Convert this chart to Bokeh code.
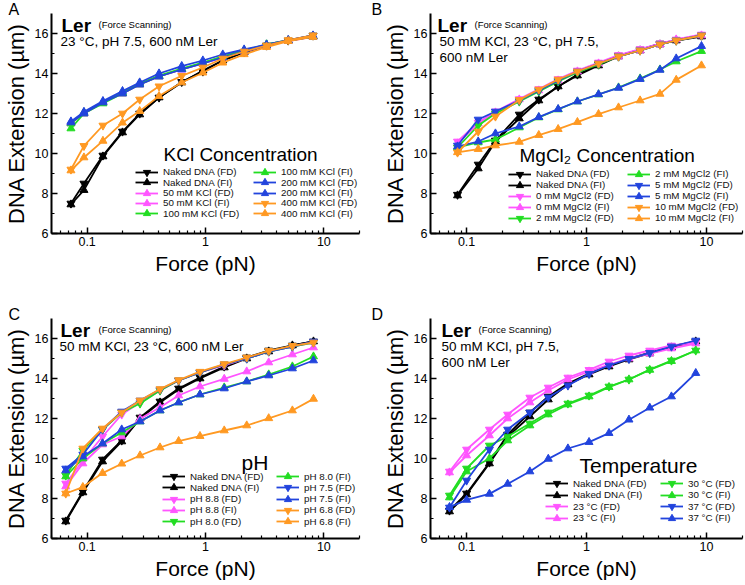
from bokeh.plotting import figure
from bokeh.models import Range1d, FixedTicker, BasicTickFormatter, Label, Legend, LegendItem
from bokeh.layouts import column, row
from bokeh.embed import file_html
from bokeh.resources import INLINE

FONT = "Liberation Sans"
BLACK = "#000000"
PINK = "#ff55ff"
GREEN = "#22dd22"
BLUE = "#2244dd"
ORANGE = "#ff9922"

# ---------------- Panel A : KCl concentration ----------------
force_a = [0.073, 0.094, 0.136, 0.199, 0.278, 0.405, 0.63, 0.95, 1.40, 2.12, 3.28, 5.0, 8.1]
a_naked_fd = [7.50, 8.50, 9.90, 11.10, 12.00, 12.80, 13.58, 14.10, 14.66, 15.07, 15.40, 15.65, 15.90]
a_naked_fi = [7.45, 8.17, 9.85, 11.05, 11.95, 12.80, 13.55, 14.15, 14.65, 15.05, 15.40, 15.65, 15.85]
a_50_fd = [11.55, 12.00, 12.55, 13.00, 13.45, 13.85, 14.20, 14.50, 14.80, 15.10, 15.40, 15.65, 15.85]
a_50_fi = [11.50, 12.00, 12.55, 13.00, 13.45, 13.85, 14.20, 14.50, 14.80, 15.10, 15.40, 15.62, 15.83]
a_100_fd = [11.25, 12.00, 12.50, 13.00, 13.45, 13.85, 14.22, 14.52, 14.85, 15.15, 15.45, 15.65, 15.85]
a_100_fi = [11.50, 12.05, 12.55, 13.05, 13.50, 13.90, 14.25, 14.55, 14.85, 15.15, 15.45, 15.65, 15.85]
a_200_fd = [11.60, 12.08, 12.62, 13.12, 13.55, 14.00, 14.37, 14.65, 14.95, 15.20, 15.45, 15.67, 15.90]
a_200_fi = [11.55, 12.00, 12.55, 13.00, 13.45, 13.85, 14.20, 14.50, 14.80, 15.10, 15.40, 15.65, 15.85]
a_400_fd = [9.20, 10.38, 11.40, 12.00, 12.70, 13.36, 13.88, 14.30, 14.75, 15.10, 15.40, 15.67, 15.90]
a_400_fi = [9.15, 9.80, 10.63, 11.54, 12.12, 12.87, 13.55, 14.04, 14.54, 14.96, 15.32, 15.62, 15.83]

# ---------------- Panel B : MgCl2 concentration ----------------
force_b = [0.084, 0.125, 0.174, 0.275, 0.40, 0.58, 0.84, 1.26, 1.85, 2.8, 4.1, 5.6, 9.1]
b_naked_fd = [7.94, 9.45, 10.65, 11.95, 12.70, 13.35, 13.95, 14.45, 14.90, 15.20, 15.50, 15.65, 15.90]
b_naked_fi = [7.90, 9.25, 10.60, 11.75, 12.65, 13.35, 13.90, 14.40, 14.85, 15.15, 15.45, 15.65, 15.85]
b_0_fd = [10.60, 11.55, 12.10, 12.72, 13.22, 13.72, 14.15, 14.55, 14.92, 15.22, 15.50, 15.70, 15.95]
b_0_fi = [10.50, 11.50, 12.05, 12.70, 13.15, 13.65, 14.10, 14.50, 14.85, 15.15, 15.45, 15.70, 15.90]
b_2_fd = [10.30, 11.40, 12.00, 12.60, 13.10, 13.60, 14.05, 14.45, 14.85, 15.15, 15.45, 15.65, 15.90]
b_2_fi = [10.30, 10.55, 10.70, 11.30, 11.80, 12.20, 12.60, 12.95, 13.30, 13.75, 14.20, 14.60, 15.12]
b_5_fd = [10.40, 11.70, 12.10, 12.65, 13.15, 13.65, 14.10, 14.50, 14.85, 15.15, 15.45, 15.65, 15.90]
b_5_fi = [10.35, 10.60, 11.00, 11.35, 11.82, 12.22, 12.60, 12.96, 13.28, 13.72, 14.18, 14.75, 15.37]
b_10_fd = [10.05, 11.10, 11.85, 12.68, 13.20, 13.70, 14.10, 14.50, 14.85, 15.15, 15.45, 15.65, 15.90]
b_10_fi = [10.06, 10.22, 10.40, 10.58, 10.92, 11.22, 11.57, 11.97, 12.30, 12.65, 12.98, 13.68, 14.40]

# ---------------- Panel C : pH ----------------
force_c = [0.066, 0.092, 0.135, 0.196, 0.28, 0.413, 0.593, 0.898, 1.44, 2.23, 3.42, 5.42, 8.17]
c_naked_fd = [6.90, 8.35, 9.95, 10.90, 12.05, 12.85, 13.50, 14.05, 14.60, 15.05, 15.40, 15.65, 15.85]
c_naked_fi = [6.85, 8.30, 9.85, 10.85, 12.00, 12.80, 13.45, 14.00, 14.55, 15.00, 15.35, 15.65, 15.85]
c_88_fd = [8.75, 9.90, 11.10, 12.20, 12.80, 13.40, 13.90, 14.30, 14.65, 15.00, 15.35, 15.60, 15.80]
c_88_fi = [8.60, 9.75, 10.70, 11.10, 11.98, 12.56, 13.15, 13.60, 13.98, 14.35, 14.80, 15.20, 15.55]
c_80_fd = [9.15, 10.40, 11.45, 12.30, 12.75, 13.40, 13.90, 14.30, 14.70, 15.00, 15.35, 15.60, 15.80]
c_80_fi = [9.10, 10.00, 10.75, 11.30, 11.85, 12.40, 12.80, 13.20, 13.55, 13.85, 14.20, 14.60, 15.10]
c_75_fd = [9.50, 10.20, 11.45, 12.35, 12.90, 13.45, 13.90, 14.30, 14.70, 15.00, 15.35, 15.60, 15.85]
c_75_fi = [9.40, 10.10, 10.75, 11.45, 11.85, 12.40, 12.80, 13.20, 13.50, 13.85, 14.15, 14.50, 14.90]
c_68_fd = [8.25, 10.50, 11.50, 12.30, 12.90, 13.47, 13.92, 14.34, 14.72, 15.05, 15.38, 15.63, 15.80]
c_68_fi = [8.25, 8.57, 9.27, 9.74, 10.15, 10.55, 10.87, 11.12, 11.40, 11.65, 12.01, 12.40, 12.98]

# ---------------- Panel D : temperature ----------------
force_d = [0.072, 0.10, 0.155, 0.22, 0.337, 0.48, 0.70, 1.05, 1.54, 2.26, 3.37, 5.11, 8.15]
d_naked_fd = [7.40, 8.25, 9.80, 11.20, 12.30, 13.10, 13.75, 14.25, 14.65, 15.00, 15.30, 15.60, 15.85]
d_naked_fi = [7.35, 8.20, 9.75, 11.10, 12.10, 12.95, 13.70, 14.20, 14.60, 14.95, 15.25, 15.55, 15.85]
d_23_fd = [9.35, 10.45, 11.45, 12.20, 13.05, 13.55, 14.05, 14.43, 14.85, 15.15, 15.40, 15.65, 15.80]
d_23_fi = [9.30, 10.15, 11.15, 12.00, 12.80, 13.40, 13.95, 14.35, 14.70, 15.00, 15.25, 15.50, 15.75]
d_30_fd = [8.15, 9.50, 10.65, 11.10, 11.75, 12.30, 12.75, 13.15, 13.60, 13.95, 14.45, 14.90, 15.40]
d_30_fi = [8.05, 9.35, 10.00, 10.90, 11.65, 12.20, 12.70, 13.10, 13.57, 13.95, 14.43, 14.87, 15.40]
d_37_fd = [7.55, 8.90, 10.45, 11.45, 12.30, 13.05, 13.65, 14.23, 14.65, 14.98, 15.28, 15.60, 15.90]
d_37_fi = [7.57, 7.93, 8.23, 8.73, 9.35, 9.98, 10.50, 10.82, 11.27, 11.94, 12.54, 13.10, 14.27]

X_TICKS = [0.1, 1, 10]
X_MINOR = [k * 10.0 ** e for e in (-2, -1, 0, 1) for k in range(2, 10) if 0.05 <= k * 10.0 ** e <= 20]
Y_TICKS = [6, 8, 10, 12, 14, 16]
Y_MINOR = [7, 9, 11, 13, 15]

DN = "inverted_triangle"
UP = "triangle"
DX, DY = -4, 5   # small correction of where text labels land


def make_panel(letter, width, height, bl, br, bt, bb, forces, series, n_left,
               header_x, lines, title, title_size, title_xy,
               leg_xs, leg_last, leg_pitch):
    p = figure(width=width, height=height, x_axis_type="log",
               x_range=Range1d(0.05, 20), y_range=Range1d(6, 17),
               output_backend="svg", toolbar_location=None,
               min_border_left=bl, min_border_right=br,
               min_border_top=bt, min_border_bottom=bb)
    p.outline_line_color = None
    p.background_fill_color = "white"
    p.border_fill_color = "white"
    p.xgrid.visible = False
    p.ygrid.visible = False

    # panel letter as the plot title, pulled left over the axis border
    p.title.text = letter
    p.title.align = "left"
    p.title.offset = -bl + 3
    p.title.standoff = -8
    p.title.text_font = FONT
    p.title.text_font_size = "16px"
    p.title.text_font_style = "normal"
    p.title.text_color = "black"

    p.xaxis.ticker = FixedTicker(ticks=X_TICKS, minor_ticks=X_MINOR)
    p.xaxis.formatter = BasicTickFormatter()
    p.yaxis.ticker = FixedTicker(ticks=Y_TICKS, minor_ticks=Y_MINOR)
    p.xaxis.axis_label = "Force (pN)"
    p.yaxis.axis_label = "DNA Extension (\u00b5m)"
    for ax in (p.xaxis[0], p.yaxis[0]):
        ax.axis_line_width = 2
        ax.axis_line_color = "black"
        ax.major_tick_in = 6
        ax.major_tick_out = 0
        ax.minor_tick_in = 3
        ax.minor_tick_out = 0
        ax.major_tick_line_width = 1.5
        ax.minor_tick_line_width = 1.2
        ax.major_tick_line_color = "black"
        ax.minor_tick_line_color = "black"
        ax.major_label_text_font = FONT
        ax.major_label_text_font_size = "12.5px"
        ax.major_label_text_color = "black"
        ax.major_label_standoff = 3
        ax.axis_label_text_font = FONT
        ax.axis_label_text_font_style = "normal"
        ax.axis_label_text_color = "black"
        ax.axis_label_standoff = 3
    p.xaxis.axis_label_text_font_size = "21px"
    p.yaxis.axis_label_text_font_size = "22px"

    items = []
    for label, ys, color, marker in series:
        ln = p.line(forces, ys, line_color=color, line_width=1.8)
        sc = p.scatter(forces, ys, marker=marker, size=8,
                       fill_color=color, line_color=color)
        items.append(LegendItem(label=label, renderers=[ln, sc]))

    # one small legend per entry so that the rows can be packed tightly
    cols = (items[:n_left], items[n_left:])
    for ci, col_items in enumerate(cols):
        for ri, it in enumerate(col_items):
            center = leg_last + (n_left - 1 - ri) * leg_pitch
            leg = Legend(items=[it], location=(leg_xs[ci], center - 9),
                         label_text_font=FONT, label_text_font_size="9.8px",
                         label_text_color="#111111",
                         glyph_width=23, glyph_height=18, label_height=18,
                         spacing=0, padding=0, margin=0, label_standoff=5,
                         border_line_alpha=0, background_fill_alpha=0)
            p.add_layout(leg)

    ler_x, fs_x, line_x = header_x
    p.add_layout(Label(x=ler_x + DX, y=203 + DY, x_units="screen", y_units="screen",
                       text="Ler", text_font=FONT, text_font_size="19px",
                       text_font_style="bold", text_color="black",
                       text_baseline="alphabetic"))
    p.add_layout(Label(x=fs_x + DX, y=204 + DY, x_units="screen", y_units="screen",
                       text="(Force Scanning)", text_font=FONT, text_font_size="9.5px",
                       text_color="black", text_baseline="alphabetic"))
    for i, t in enumerate(lines):
        p.add_layout(Label(x=line_x + DX, y=187 - 16 * i + DY, x_units="screen",
                           y_units="screen", text=t, text_font=FONT,
                           text_font_size="13.5px", text_color="black",
                           text_baseline="alphabetic"))
    p.add_layout(Label(x=title_xy[0] + DX, y=title_xy[1] + DY, x_units="screen",
                       y_units="screen", text=title, text_font=FONT,
                       text_font_size=title_size, text_color="black",
                       text_baseline="alphabetic"))
    return p


series_a = [
    ("Naked DNA (FD)", a_naked_fd, BLACK, DN),
    ("Naked DNA (FI)", a_naked_fi, BLACK, UP),
    ("50 mM KCl (FD)", a_50_fd, PINK, UP),
    ("50 mM KCl (FI)", a_50_fi, PINK, UP),
    ("100 mM KCl (FD)", a_100_fd, GREEN, UP),
    ("100 mM KCl (FI)", a_100_fi, GREEN, UP),
    ("200 mM KCl (FD)", a_200_fd, BLUE, UP),
    ("200 mM KCl (FI)", a_200_fi, BLUE, UP),
    ("400 mM KCl (FD)", a_400_fd, ORANGE, DN),
    ("400 mM KCl (FI)", a_400_fi, ORANGE, UP),
]
series_b = [
    ("Naked DNA (FD)", b_naked_fd, BLACK, DN),
    ("Naked DNA (FI)", b_naked_fi, BLACK, UP),
    ("0 mM MgCl2 (FD)", b_0_fd, PINK, DN),
    ("0 mM MgCl2 (FI)", b_0_fi, PINK, UP),
    ("2 mM MgCl2 (FD)", b_2_fd, GREEN, DN),
    ("2 mM MgCl2 (FI)", b_2_fi, GREEN, UP),
    ("5 mM MgCl2 (FD)", b_5_fd, BLUE, DN),
    ("5 mM MgCl2 (FI)", b_5_fi, BLUE, UP),
    ("10 mM MgCl2 (FD)", b_10_fd, ORANGE, DN),
    ("10 mM MgCl2 (FI)", b_10_fi, ORANGE, UP),
]
series_c = [
    ("Naked DNA (FD)", c_naked_fd, BLACK, DN),
    ("Naked DNA (FI)", c_naked_fi, BLACK, UP),
    ("pH 8.8 (FD)", c_88_fd, PINK, DN),
    ("pH 8.8 (FI)", c_88_fi, PINK, UP),
    ("pH 8.0 (FD)", c_80_fd, GREEN, DN),
    ("pH 8.0 (FI)", c_80_fi, GREEN, UP),
    ("pH 7.5 (FD)", c_75_fd, BLUE, DN),
    ("pH 7.5 (FI)", c_75_fi, BLUE, UP),
    ("pH 6.8 (FD)", c_68_fd, ORANGE, DN),
    ("pH 6.8 (FI)", c_68_fi, ORANGE, UP),
]
series_d = [
    ("Naked DNA (FD)", d_naked_fd, BLACK, DN),
    ("Naked DNA (FI)", d_naked_fi, BLACK, UP),
    ("23 \u00b0C (FD)", d_23_fd, PINK, DN),
    ("23 \u00b0C (FI)", d_23_fi, PINK, UP),
    ("30 \u00b0C (FD)", d_30_fd, GREEN, DN),
    ("30 \u00b0C (FI)", d_30_fi, GREEN, UP),
    ("37 \u00b0C (FD)", d_37_fd, BLUE, DN),
    ("37 \u00b0C (FI)", d_37_fi, BLUE, UP),
]

pa = make_panel("A", 368, 290, 46, 9, 13, 57, force_a, series_a, 5,
                (14, 51, 13), ["23 \u00b0C, pH 7.5, 600 nM Ler"],
                "KCl Concentration", "19px", (116, 74),
                (84, 202), 19.7, 10.4)
pb = make_panel("B", 376, 290, 62, 2, 13, 57, force_b, series_b, 5,
                (11, 48, 13), ["50 mM KCl, 23 \u00b0C, pH 7.5,", "600 nM Ler"],
                "MgCl\u2082 Concentration", "19px", (93, 73),
                (78, 197), 15.5, 11.0)
pc = make_panel("C", 368, 294, 46, 9, 28, 46, force_c, series_c, 5,
                (13, 51, 12), ["50 mM KCl, 23 \u00b0C, 600 nM Ler"],
                "pH", "21px", (194, 71),
                (111, 225), 17.0, 11.25)
pd = make_panel("D", 376, 294, 62, 2, 28, 46, force_d, series_d, 4,
                (15, 52, 15), ["50 mM KCl, pH 7.5,", "600 nM Ler"],
                "Temperature", "21px", (153, 68),
                (115, 230), 20.3, 11.5)

layout = column(row(pa, pb), row(pc, pd))

with open("out.html", "w") as f:
    f.write(file_html(layout, INLINE, title="DNA extension vs force"))
